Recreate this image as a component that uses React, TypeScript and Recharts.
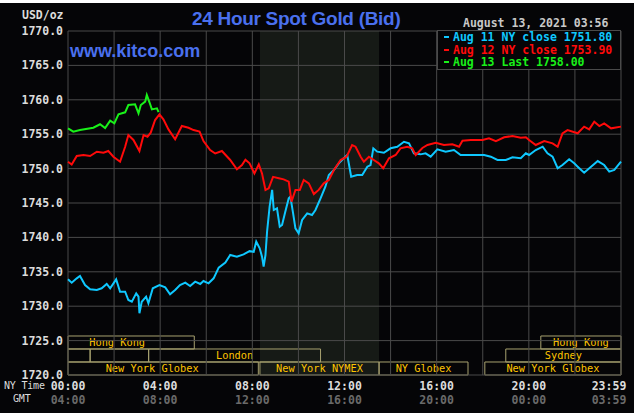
import React from "react";
import {
  LineChart,
  Line,
  XAxis,
  YAxis,
  ReferenceArea,
  ReferenceLine,
} from "recharts";

// hours since NY midnight
const aug13Times = [0, 0.23, 0.52, 1.1, 1.39, 1.61, 1.83, 2.01, 2.19, 2.48, 2.62, 2.91, 3.06, 3.16, 3.35, 3.42, 3.54, 3.64, 3.86, 3.93];
const aug13Values = [1755.85, 1755.37, 1755.6, 1755.94, 1756.44, 1755.9, 1756.96, 1756.58, 1757.9, 1758.18, 1759.24, 1759.34, 1758.04, 1759.24, 1759.73, 1760.7, 1759.6, 1758.6, 1758.76, 1758.2];

const aug12Times = [
  0, 0.16, 0.38, 0.67, 0.96, 1.25, 1.54, 1.75, 1.97, 2.26, 2.48, 2.62, 2.84, 3.1, 3.28, 3.45, 3.59, 3.78, 3.97, 4.14,
  4.36, 4.65, 4.94, 5.23, 5.45, 5.71, 5.88, 6.17, 6.39, 6.68, 7.04, 7.33, 7.55, 7.7, 7.88, 8.09, 8.28, 8.42, 8.57, 8.71,
  8.9, 9.15, 9.36, 9.58, 9.7, 9.87, 10.06, 10.23, 10.45, 10.67, 10.88, 11.1, 11.32, 11.54, 11.83, 12.09, 12.33, 12.48, 12.7, 12.84,
  13.06, 13.27, 13.49, 13.68, 13.93, 14.22, 14.43, 14.72, 14.94, 15.09, 15.38, 15.6, 15.96, 16.32, 16.68, 16.97, 17.12, 17.48, 17.99, 18.27,
  18.57, 18.93, 19.29, 19.65, 19.87, 20.01, 20.3, 20.67, 21.03, 21.25, 21.46, 21.68, 22.12, 22.4, 22.62, 22.84, 23.06, 23.27, 23.57, 24,
];
const aug12Values = [
  1751.0, 1750.6, 1751.83, 1751.98, 1751.83, 1752.46, 1752.3, 1752.56, 1751.73, 1751.0, 1753.18, 1754.88, 1754.16, 1752.56, 1754.88, 1754.64, 1755.22, 1757.06, 1757.89, 1757.17,
  1755.7, 1754.26, 1756.19, 1755.94, 1755.6, 1755.37, 1754.0, 1752.7, 1752.2, 1752.56, 1751.25, 1749.9, 1750.52, 1751.3, 1750.77, 1749.3, 1750.62, 1749.3, 1746.9, 1747.14,
  1748.8, 1748.6, 1748.44, 1748.1, 1745.19, 1746.9, 1746.9, 1748.35, 1747.86, 1746.3, 1746.9, 1747.86, 1748.35, 1749.8, 1751.25, 1751.73, 1753.43, 1753.18, 1751.73, 1751.0,
  1751.73, 1751.25, 1750.77, 1750.05, 1751.5, 1751.98, 1752.95, 1753.18, 1752.95, 1751.98, 1753.0, 1753.43, 1753.76, 1753.43, 1753.53, 1753.18, 1754.06, 1754.16, 1754.16, 1754.4,
  1754.0, 1754.55, 1754.74, 1754.5, 1754.55, 1754.16, 1753.43, 1754.0, 1753.67, 1753.18, 1755.13, 1755.6, 1755.13, 1756.1, 1755.7, 1756.8, 1756.19, 1756.58, 1755.85, 1756.1,
];

const aug11Times = [
  0, 0.16, 0.38, 0.52, 0.74, 0.96, 1.25, 1.46, 1.68, 1.83, 2.09, 2.26, 2.48, 2.62, 2.77, 2.96, 3.06, 3.1, 3.2, 3.39,
  3.49, 3.68, 3.97, 4.22, 4.43, 4.65, 4.86, 5.09, 5.3, 5.52, 5.74, 5.88, 6.1, 6.32, 6.54, 6.83, 7.04, 7.33, 7.62, 7.88,
  8.06, 8.17, 8.32, 8.42, 8.49, 8.57, 8.64, 8.75, 8.86, 8.93, 9.07, 9.19, 9.29, 9.43, 9.58, 9.65, 9.77, 9.87, 10.01, 10.16,
  10.38, 10.59, 10.74, 10.96, 11.17, 11.32, 11.54, 11.75, 11.97, 12.12, 12.29, 12.55, 12.77, 12.99, 13.13, 13.25, 13.42, 13.71, 14.0, 14.29,
  14.58, 14.8, 15.01, 15.3, 15.52, 15.74, 16.03, 16.39, 16.75, 17.04, 17.48, 18.06, 18.35, 18.64, 19.0, 19.29, 19.65, 19.87, 20.01, 20.3,
  20.6, 20.81, 21.03, 21.25, 21.46, 21.75, 21.97, 22.12, 22.4, 22.7, 22.99, 23.27, 23.49, 23.71, 24,
];
const aug11Values = [
  1733.9, 1733.42, 1734.05, 1734.39, 1733.08, 1732.45, 1732.35, 1732.6, 1733.23, 1732.6, 1733.9, 1732.1, 1732.1, 1730.9, 1730.65, 1731.87, 1731.38, 1728.97, 1730.65, 1731.38,
  1730.42, 1732.6, 1733.08, 1732.74, 1731.72, 1732.35, 1733.08, 1733.42, 1732.94, 1733.57, 1733.23, 1733.66, 1733.33, 1734.05, 1735.6, 1736.33, 1737.44, 1737.2, 1737.54, 1738.0,
  1737.9, 1739.38, 1738.41, 1737.2, 1735.74, 1737.44, 1740.83, 1744.46, 1746.9, 1743.98, 1744.23, 1741.56, 1741.8, 1743.74, 1745.68, 1745.92, 1743.5, 1741.32, 1740.6, 1742.53,
  1743.5, 1743.25, 1743.98, 1745.68, 1747.37, 1749.07, 1749.8, 1750.77, 1751.5, 1751.98, 1748.83, 1749.07, 1749.07, 1750.28, 1750.52, 1752.95, 1752.46, 1752.3, 1752.95, 1753.18,
  1753.9, 1753.67, 1752.22, 1752.07, 1752.22, 1751.73, 1752.8, 1752.46, 1752.7, 1751.98, 1751.98, 1751.98, 1751.73, 1751.25, 1751.25, 1751.64, 1751.5, 1752.22, 1751.98, 1752.7,
  1753.18, 1752.22, 1751.73, 1750.05, 1750.52, 1751.35, 1750.77, 1750.28, 1749.4, 1750.28, 1751.1, 1750.52, 1749.55, 1749.8, 1751.0,
];

const priceTicks = [1720, 1725, 1730, 1735, 1740, 1745, 1750, 1755, 1760, 1765, 1770];
const hourTicks = [0, 2, 4, 6, 8, 10, 12, 14, 16, 18, 20, 22, 24];
const labelHours = [0, 4, 8, 12, 16, 20, 24];
const nyTimeLabels = ["00:00", "04:00", "08:00", "12:00", "16:00", "20:00", "23:59"];
const gmtLabels = ["04:00", "08:00", "12:00", "16:00", "20:00", "00:00", "03:59"];

// trading sessions (row 0 = top)
const sessionNames = ["Hong Kong", "", "", "London", "New York Globex", "New York NYMEX", "NY Globex", "Hong Kong", "Sydney", "New York Globex"];
const sessionStarts = [0, 0, 0.96, 3.5, 0, 8.33, 13.5, 20.52, 19.0, 18.09];
const sessionEnds = [5.48, 0.96, 3.5, 10.96, 8.26, 13.5, 17.36, 24, 24, 24];
const sessionRows = [0, 1, 1, 1, 2, 2, 2, 0, 1, 2];

const nymexStart = 8.33;
const nymexEnd = 13.5;

const legendNames = ["Aug 11 NY close 1751.80", "Aug 12 NY close 1753.90", "Aug 13 Last 1758.00"];

const CYAN = "#0fc8ff";
const RED = "#ff0a0a";
const GREEN = "#19f019";
const GRID = "#4a4a4a";
const MONO = "'DejaVu Sans Mono', monospace";

const rowBounds = [
  [1723.78, 1725.67],
  [1721.89, 1723.78],
  [1720, 1721.89],
];
const labelShift: Record<number, number> = { 0: -14, 4: -11 };

const toPoints = (t: number[], v: number[]) => t.map((h, i) => ({ h, v: v[i] }));

const TimeTick = (props: any) => {
  const { x, y, payload } = props;
  const i = labelHours.indexOf(payload.value);
  if (i < 0) return <g />;
  const dx = payload.value === 24 ? -12 : 0;
  return (
    <g>
      <text x={x + dx} y={y + 15} textAnchor="middle" fill="#dcdcdc" fontSize={11.5} fontWeight="bold" fontFamily={MONO}>
        {nyTimeLabels[i]}
      </text>
      <text x={x + dx} y={y + 29} textAnchor="middle" fill="#6a6a6a" fontSize={11.5} fontWeight="bold" fontFamily={MONO}>
        {gmtLabels[i]}
      </text>
    </g>
  );
};

const SessionLabel = (props: any) => {
  const { viewBox, session, shift = 0 } = props;
  if (!viewBox || !session) return null;
  const { x, y, width, height } = viewBox;
  return (
    <text x={x + width / 2 + shift} y={y + height / 2 + 3.5} textAnchor="middle" fill="#ffc400" fontSize={10.3} fontFamily={MONO}>
      {session}
    </text>
  );
};

export default function App() {
  const series = [
    { name: legendNames[0], color: CYAN, data: toPoints(aug11Times, aug11Values) },
    { name: legendNames[1], color: RED, data: toPoints(aug12Times, aug12Values) },
    { name: legendNames[2], color: GREEN, data: toPoints(aug13Times, aug13Values) },
  ];

  return (
    <div style={{ position: "relative", width: 634, height: 413, background: "#fff" }}>
      <style>{"body{margin:0}"}</style>
      <div style={{ position: "absolute", top: 3, left: 0, width: 634, height: 410, background: "#050507", overflow: "hidden" }}>
        <LineChart width={634} height={410} margin={{ top: 28, right: 13, bottom: 0, left: 0 }}>
          <ReferenceArea x1={nymexStart} x2={nymexEnd} y1={1720} y2={1770} fill="#161a16" fillOpacity={1} stroke="none" />
          {hourTicks.map((h) => (
            <ReferenceLine key={"x" + h} x={h} stroke={GRID} strokeWidth={1} />
          ))}
          {priceTicks.map((p) => (
            <ReferenceLine key={"y" + p} y={p} stroke={GRID} strokeWidth={1} />
          ))}
          <XAxis
            dataKey="h"
            type="number"
            domain={[0, 24]}
            ticks={hourTicks}
            interval={0}
            height={38}
            axisLine={false}
            tickLine={false}
            tickSize={0}
            tickMargin={0}
            tick={<TimeTick />}
            allowDuplicatedCategory={false}
          />
          <YAxis
            type="number"
            domain={[1720, 1770]}
            ticks={priceTicks}
            interval={0}
            width={68}
            axisLine={false}
            tickLine={false}
            tickSize={0}
            tickMargin={5}
            tickFormatter={(v: number) => v.toFixed(1)}
            tick={{ fill: "#dcdcdc", fontSize: 11.5, fontWeight: "bold", fontFamily: MONO }}
          />
          {sessionNames.map((s, i) => (
            <ReferenceArea
              key={i}
              x1={sessionStarts[i]}
              x2={sessionEnds[i]}
              y1={rowBounds[sessionRows[i]][0]}
              y2={rowBounds[sessionRows[i]][1]}
              fill="none"
              fillOpacity={0}
              stroke="#a8a270"
              strokeWidth={1}
              label={<SessionLabel session={s} shift={labelShift[i] ?? 0} />}
            />
          ))}
          {series.map((s) => (
            <Line
              key={s.name}
              data={s.data}
              dataKey="v"
              type="linear"
              stroke={s.color}
              strokeWidth={2}
              dot={false}
              isAnimationActive={false}
            />
          ))}
        </LineChart>

        <div style={{ position: "absolute", left: 22, top: 6, fontFamily: MONO, fontSize: 11.5, fontWeight: "bold", lineHeight: "12px", color: "#dcdcdc" }}>
          USD/oz
        </div>
        <div
          style={{
            position: "absolute",
            left: 192,
            top: 6,
            fontFamily: "'Liberation Sans', Arial, sans-serif",
            fontSize: 19,
            fontWeight: "bold",
            letterSpacing: -0.3,
            lineHeight: "20px",
            color: "#4a70ee",
            whiteSpace: "nowrap",
          }}
        >
          24 Hour Spot Gold (Bid)
        </div>
        <div
          style={{
            position: "absolute",
            left: 70,
            top: 38,
            fontFamily: "'Liberation Sans', Arial, sans-serif",
            fontSize: 18,
            fontWeight: "bold",
            lineHeight: "20px",
            color: "#4a70ee",
          }}
        >
          www.kitco.com
        </div>
        <div style={{ position: "absolute", left: 463, top: 14, fontFamily: MONO, fontSize: 11.5, fontWeight: "bold", lineHeight: "12px", color: "#c8c8c8", whiteSpace: "nowrap" }}>
          August 13, 2021 03:56
        </div>
        <div
          style={{
            position: "absolute",
            left: 437,
            top: 27,
            width: 182,
            height: 38,
            border: `1px solid ${GRID}`,
            background: "#050507",
            fontFamily: MONO,
            fontSize: 11.5,
            fontWeight: "bold",
            lineHeight: "12.5px",
          }}
        >
          {series.map((s) => (
            <div key={s.name} style={{ display: "flex", alignItems: "center", color: s.color, whiteSpace: "nowrap" }}>
              <span style={{ display: "inline-block", width: 5, height: 2, background: s.color, marginLeft: 6, marginRight: 4 }} />
              {s.name}
            </div>
          ))}
        </div>
        <div style={{ position: "absolute", left: 4, top: 379, fontFamily: MONO, fontSize: 10, lineHeight: "8px", color: "#dcdcdc", letterSpacing: -0.2 }}>
          NY Time
        </div>
        <div style={{ position: "absolute", left: 13, top: 392, fontFamily: MONO, fontSize: 10, lineHeight: "8px", color: "#dcdcdc", letterSpacing: -0.2 }}>
          GMT
        </div>
      </div>
    </div>
  );
}
